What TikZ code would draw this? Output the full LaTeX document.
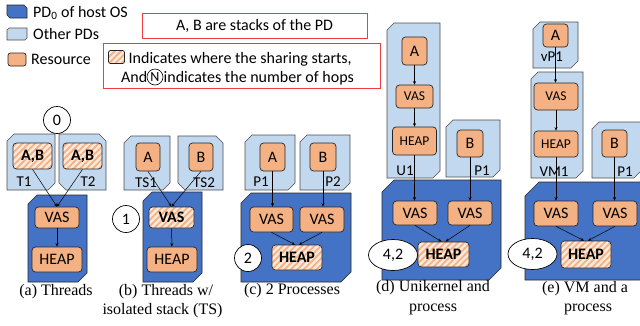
\documentclass[tikz,border=0pt]{standalone}
\usepackage{fontspec}
\setmainfont{Carlito}
\newfontfamily\capfont{Liberation Serif}
\usetikzlibrary{shapes.geometric,patterns.meta,arrows.meta}
\definecolor{pddark}{HTML}{4472C4}
\definecolor{pdlight}{HTML}{C2D8EF}
\definecolor{resfill}{HTML}{F4B183}
\definecolor{hatchbg}{HTML}{FCE9DC}
\definecolor{hatchfg}{HTML}{F4B183}
\definecolor{legred}{HTML}{F03C3C}
% snipped rectangle, corners top-left and bottom-right: style, x1, y1, x2, y2, chamfer
\newcommand{\snipNWSE}[6]{\path[#1] ({#2+#6},#3) -- (#4,#3) -- (#4,{#5-#6}) -- ({#4-#6},#5) -- (#2,#5) -- (#2,{#3+#6}) -- cycle;}
% snipped rectangle, corners top-right and bottom-left
\newcommand{\snipNESW}[6]{\path[#1] (#2,#3) -- ({#4-#6},#3) -- (#4,{#3+#6}) -- (#4,#5) -- ({#2+#6},#5) -- (#2,{#5-#6}) -- cycle;}
\tikzset{
  pdl/.style={draw=black!70, line width=0.6pt, fill=pdlight},
  pdh/.style={draw=black!85, line width=0.6pt, fill=pddark},
  res/.style={draw=black!85, line width=0.7pt, fill=resfill, rounded corners=3.5pt, inner sep=0pt,
    font=\fontsize{16}{18}\selectfont},
  ressmall/.style={res, font=\fontsize{13.5}{15}\selectfont},
  shared/.style={draw=black!85, line width=0.7pt, rounded corners=3.5pt, inner sep=0pt,
    preaction={fill=hatchbg}, pattern={Lines[angle=45,distance=4.5pt,line width=1.8pt]}, pattern color=hatchfg,
    font=\bfseries\fontsize{16}{18}\selectfont},
  arr/.style={-{Stealth[length=3.5pt,width=3pt]}, line width=0.5pt, black},
  hop/.style={circle, draw=black, line width=0.7pt, fill=white, minimum size=27pt, inner sep=0pt,
    font=\fontsize{16}{18}\selectfont},
  hopell/.style={ellipse, draw=black, line width=0.7pt, fill=white, minimum width=49pt, minimum height=31pt,
    inner sep=0pt, font=\fontsize{16}{18}\selectfont},
  lab/.style={inner sep=0pt, font=\fontsize{15}{17}\selectfont},
  leg/.style={inner sep=0pt, font=\fontsize{16}{18}\selectfont},
  captxt/.style={inner sep=0pt, font=\capfont\fontsize{16}{18}\selectfont},
  redbox/.style={draw=legred, line width=0.8pt, inner sep=0pt},
}
\begin{document}
\begin{tikzpicture}[x=1pt,y=-1pt]
\useasboundingbox (0,0) rectangle (640,325);

% ---------- legend ----------
\snipNESW{pdh}{7}{5}{27}{18}{3}
\node[leg, anchor=west] (legdt) at (33,13) {PD\textsubscript{0} of host OS};
\snipNWSE{pdl}{7}{28}{27}{40}{2}
\node[leg, anchor=west] (leglt) at (33,34) {Other PDs};
\node[res, rounded corners=2.5pt, minimum width=18pt, minimum height=13pt] (legr) at (17,59.5) {};
\node[leg, anchor=west] (legrt) at (31,59) {Resource};

\node[redbox, minimum width=225pt, minimum height=25pt, font=\fontsize{16}{18}\selectfont] (rb1) at (254.5,25.5) {A, B are stacks of the PD};
\node[redbox, minimum width=277pt, minimum height=45pt] (rb2) at (241.5,65.5) {};
\node[shared, rounded corners=2pt, minimum width=16pt, minimum height=13pt] (legh) at (116.5,57) {};
\node[leg, anchor=base west] (l1) at (128.5,63.5) {Indicates where the sharing starts,};
\node[leg, anchor=base west] (l2a) at (121,82.5) {And};
\node[circle, draw=black, line width=0.6pt, minimum size=16pt, inner sep=0pt, font=\fontsize{14}{16}\selectfont] (legn) at (155,77) {N};
\node[leg, anchor=base west] (l2b) at (163.5,82.5) {indicates the number of hops};

% ---------- (a) Threads ----------
\snipNWSE{pdl}{7}{134}{55}{190}{7}
\snipNESW{pdl}{59}{134}{106}{190}{7}
\snipNWSE{pdh}{28}{195}{87}{282}{9}
\node[shared,minimum width=39pt,minimum height=26pt] (ABa1) at (32.5,156) {A,B};
\node[shared,minimum width=39pt,minimum height=26pt] (ABa2) at (82.5,156) {A,B};
\node[res,minimum width=44pt,minimum height=21pt] (VASa) at (57,217.5) {VAS};
\node[res,minimum width=50pt,minimum height=25pt] (HEAPa) at (57,259.5) {HEAP};
\node[lab] (T1l) at (24,182) {T1};
\node[lab] (T2l) at (88,182) {T2};
\node[hop] (h0) at (57,120) {0};
\node[captxt] (capa) at (56,292) {(a) Threads};
\draw[arr] (ABa1.south) -- (VASa.north);
\draw[arr] (ABa2.south) -- (VASa.north);
\draw[arr] (VASa) -- (HEAPa);

% ---------- (b) Threads w/ isolated stack ----------
\snipNWSE{pdl}{124}{136}{170}{190}{7}
\snipNESW{pdl}{178}{136}{223}{190}{7}
\snipNWSE{pdh}{143}{192}{202}{282}{9}
\node[res,minimum width=24pt,minimum height=28pt] (Ab) at (148,157) {A};
\node[res,minimum width=24pt,minimum height=28pt] (Bb) at (201,157) {B};
\node[shared,minimum width=45pt,minimum height=21pt] (VASb) at (171.5,217.5) {VAS};
\node[res,minimum width=50pt,minimum height=25pt] (HEAPb) at (172,259.5) {HEAP};
\node[lab] (TS1l) at (146,183) {TS1};
\node[lab] (TS2l) at (204,183) {TS2};
\node[hop] (h1) at (126,219) {1};
\node[captxt] (capb1) at (166,292) {(b) Threads w/};
\node[captxt] (capb2) at (162.5,311) {isolated stack (TS)};
\draw[arr] (Ab.south) -- (VASb.north);
\draw[arr] (Bb.south) -- (VASb.north);
\draw[arr] (VASb) -- (HEAPb);

% ---------- (c) 2 Processes ----------
\snipNWSE{pdl}{245}{135}{295}{190}{7}
\snipNWSE{pdl}{300}{135}{350}{190}{7}
\snipNWSE{pdh}{241}{193}{351}{282}{10}
\node[res,minimum width=25pt,minimum height=28pt] (Ac) at (272.5,157) {A};
\node[res,minimum width=26pt,minimum height=28pt] (Bc) at (323,157) {B};
\node[res,minimum width=43pt,minimum height=25pt] (VASc1) at (271.5,219.5) {VAS};
\node[res,minimum width=44pt,minimum height=25pt] (VASc2) at (322,219.5) {VAS};
\node[shared,minimum width=50pt,minimum height=25pt] (HEAPc) at (297,257.5) {HEAP};
\node[lab] (P1cl) at (261,182) {P1};
\node[lab] (P2cl) at (333,182) {P2};
\node[hop] (h2) at (248,258) {2};
\node[captxt] (capc) at (292,291) {(c) 2 Processes};
\draw[arr] (Ac.south) -- (Ac.south |- VASc1.north);
\draw[arr] (Bc.south) -- (Bc.south |- VASc2.north);
\draw[arr] (VASc1.south) -- ([xshift=-2pt]HEAPc.north);
\draw[arr] (VASc2.south) -- ([xshift=2pt]HEAPc.north);

% ---------- (d) Unikernel and process ----------
\snipNWSE{pdl}{387}{23}{440}{178}{7}
\snipNWSE{pdl}{446}{120}{500}{177}{7}
\snipNWSE{pdh}{382}{180}{501}{280}{12}
\node[res,minimum width=25pt,minimum height=28pt] (Ad) at (414.5,51) {A};
\node[ressmall,minimum width=37pt,minimum height=23pt] (VASu) at (414.5,96.5) {VAS};
\node[ressmall,minimum width=44pt,minimum height=28pt] (HEAPu) at (414.5,141) {HEAP};
\node[res,minimum width=26pt,minimum height=27pt] (Bd) at (470,143.5) {B};
\node[res,minimum width=44pt,minimum height=24pt] (VASd1) at (415,213) {VAS};
\node[res,minimum width=44pt,minimum height=24pt] (VASd2) at (470,213) {VAS};
\node[shared,minimum width=51pt,minimum height=25pt] (HEAPd) at (443.5,254.5) {HEAP};
\node[lab] (U1l) at (405,171) {U1};
\node[lab] (P1dl) at (482,171) {P1};
\node[hopell] (h42d) at (393,255) {4,2};
\node[captxt] (capd1) at (433,288) {(d) Unikernel and};
\node[captxt] (capd2) at (433,309) {process};
\draw[arr] (Ad) -- (VASu);
\draw[arr] (VASu) -- (HEAPu);
\draw[arr] (HEAPu.south) -- (HEAPu.south |- VASd1.north);
\draw[arr] (Bd.south) -- (Bd.south |- VASd2.north);
\draw[arr] (VASd1.south) -- ([xshift=-2pt]HEAPd.north);
\draw[arr] (VASd2.south) -- ([xshift=2pt]HEAPd.north);

% ---------- (e) VM and a process ----------
\snipNWSE{pdl}{533}{22}{578}{68}{7}
\snipNWSE{pdl}{531}{72}{583}{178}{7}
\snipNWSE{pdl}{592}{122}{641}{178}{7}
\snipNWSE{pdh}{525}{182}{660}{280}{14}
\node[res,minimum width=25pt,minimum height=23pt] (Ae) at (555.5,35.5) {A};
\node[ressmall,minimum width=44pt,minimum height=27pt] (VASv) at (556,96.5) {VAS};
\node[ressmall,minimum width=44pt,minimum height=26pt] (HEAPv) at (556,144) {HEAP};
\node[res,minimum width=25pt,minimum height=27pt] (Be) at (614.5,143.5) {B};
\node[res,minimum width=44pt,minimum height=25pt] (VASe1) at (556,213.5) {VAS};
\node[res,minimum width=44pt,minimum height=25pt] (VASe2) at (615,213.5) {VAS};
\node[shared,minimum width=50pt,minimum height=27pt] (HEAPe) at (586,254.5) {HEAP};
\node[lab] (vP1l) at (552,57) {vP1};
\node[lab] (VM1l) at (554,172) {VM1};
\node[lab] (P1el) at (625,172) {P1};
\node[hopell] (h42e) at (532.5,254) {4,2};
\node[captxt] (cape1) at (585,289) {(e) VM and a};
\node[captxt] (cape2) at (588,309) {process};
\draw[arr] (Ae.south) -- (Ae.south |- VASv.north);
\draw[arr] (VASv) -- (HEAPv);
\draw[arr] (HEAPv.south) -- (HEAPv.south |- VASe1.north);
\draw[arr] (Be.south) -- (Be.south |- VASe2.north);
\draw[arr] (VASe1.south) -- ([xshift=-2pt]HEAPe.north);
\draw[arr] (VASe2.south) -- ([xshift=2pt]HEAPe.north);
\end{tikzpicture}
\end{document}
